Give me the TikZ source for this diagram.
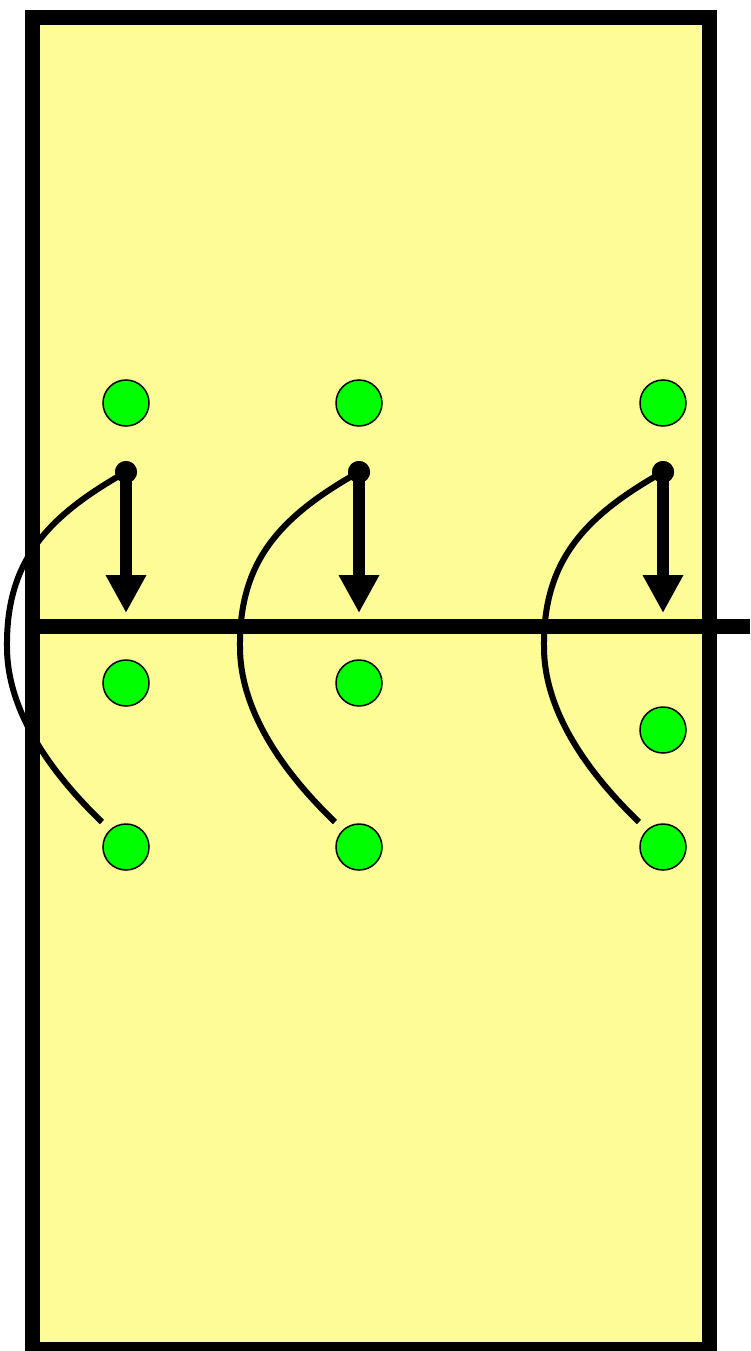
\documentclass[tikz,border=0pt]{standalone}
\usepackage{tikz}
\usetikzlibrary{calc, positioning, arrows.meta}
\definecolor{CourtYellow}{RGB}{253, 252, 150}
\definecolor{PlayerGreen}{RGB}{0, 255, 0}
\definecolor{CourtBlack}{RGB}{0, 0, 0}

\begin{document}
\begin{tikzpicture}[x=1pt, y=-1pt,
    player/.style={circle, fill=PlayerGreen, draw=CourtBlack, line width=1.5pt, minimum size=46pt, inner sep=0pt},
    startdot/.style={circle, fill=CourtBlack, minimum size=22pt, inner sep=0pt},
    move/.style={line width=12.5pt, color=CourtBlack, -{Triangle[length=38pt, width=38pt]}},
    route/.style={line width=6pt, color=CourtBlack}]

    % Fixed frame of the picture
    \useasboundingbox (0,0) rectangle (750,1351);

    % --- Court ---
    \draw[line width=15pt, color=CourtBlack, fill=CourtYellow] (32.5,18) rectangle (709.5,1349.5);
    % Net
    \draw[line width=15pt, color=CourtBlack] (32.5,626) -- (750,626);

    % --- Players ---
    \foreach \i/\x/\ymid in {1/126/683, 2/359/683, 3/663/730} {
        \node[player] (top\i) at (\x,403) {};
        \node[player] (mid\i) at (\x,\ymid) {};
        \node[player] (bot\i) at (\x,847) {};
    }

    % --- Runs (same shape for each column) ---
    \foreach \i/\x in {1/126, 2/359, 3/663} {
        \node[startdot] (dot\i) at (\x,472) {};
        \coordinate (stop\i) at (\x,613);
        \coordinate (turn\i) at ({\x-119},647);
        \coordinate (end\i) at ({\x-24},822);
        % Curved path back to the bottom player
        \draw[route] (dot\i.center) .. controls ({\x-80},517) and ({\x-120},562) .. (turn\i)
                                   .. controls ({\x-119},712) and ({\x-74},774) .. (end\i);
        % Straight move to the net
        \draw[move] (dot\i.center) -- (stop\i);
        \node[startdot] at (dot\i) {};
    }

\end{tikzpicture}
\end{document}
